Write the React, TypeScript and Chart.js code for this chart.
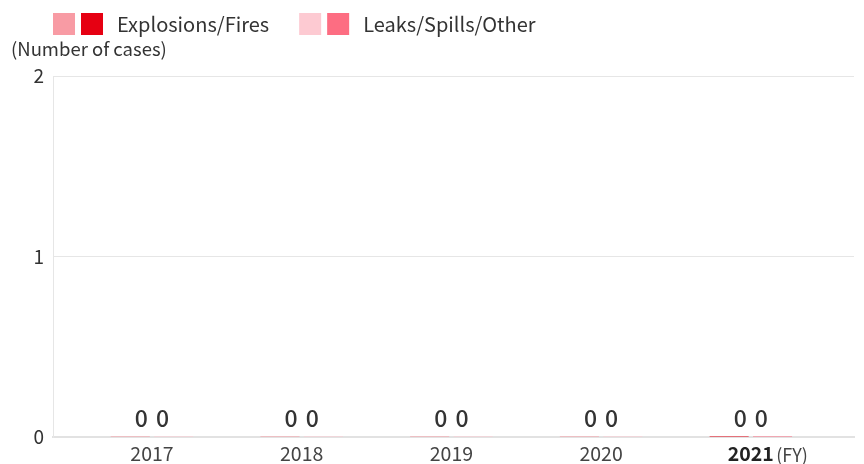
import React, { useEffect, useRef } from "react";
import { Chart, registerables } from "chart.js";

Chart.register(...registerables);

const categories = ["2017", "2018", "2019", "2020", "2021"];
const explosionsFires = [0, 0, 0, 0, 0];
const leaksSpillsOther = [0, 0, 0, 0, 0];
const seriesLabels = ["Explosions/Fires", "Leaks/Spills/Other"];
const yTicks = [0, 1, 2];
const yAxisTitle = "(Number of cases)";
const fyLabel = "(FY)";

const FONT = "'Noto Sans CJK JP', 'Noto Sans', sans-serif";
const lightColors = ["#f89ba4", "#fdcad2"];
const darkColors = ["#e60012", "#fd6d82"];

function barColors(series: number) {
  return categories.map((_, i) => (i === categories.length - 1 ? darkColors[series] : lightColors[series]));
}

const overlayPlugin = {
  id: "overlay",
  afterDatasetsDraw(chart: any) {
    const ctx = chart.ctx;
    const xs = chart.scales.x;
    ctx.save();
    ctx.font = `500 23px ${FONT}`;
    ctx.fillStyle = "#333";
    ctx.textBaseline = "bottom";
    chart.data.datasets.forEach((ds: any, di: number) => {
      const meta = chart.getDatasetMeta(di);
      meta.data.forEach((el: any, i: number) => {
        const center = xs.getPixelForValue(i);
        const v = ds.data[i].y;
        ctx.textAlign = di === 0 ? "right" : "left";
        const x = di === 0 ? center - 4 : center + 4;
        ctx.fillText(String(v), x, el.y - 6);
      });
    });
    ctx.restore();
  },
  afterDraw(chart: any) {
    const ctx = chart.ctx;
    const xs = chart.scales.x;
    ctx.save();
    // legend
    let x = 53;
    const sy = 13;
    ctx.textBaseline = "middle";
    ctx.textAlign = "left";
    ctx.font = `400 20px ${FONT}`;
    seriesLabels.forEach((lab, s) => {
      ctx.fillStyle = lightColors[s];
      ctx.fillRect(x, sy, 22, 22);
      ctx.fillStyle = darkColors[s];
      ctx.fillRect(x + 28, sy, 22, 22);
      ctx.fillStyle = "#333";
      const tx = x + 64;
      ctx.fillText(lab, tx, sy + 11);
      x = tx + ctx.measureText(lab).width + 30;
    });
    // y axis title
    ctx.font = `400 18.5px ${FONT}`;
    ctx.fillStyle = "#333";
    ctx.fillText(yAxisTitle, 11, 49);
    // FY
    const last = categories.length - 1;
    ctx.font = `700 19px ${FONT}`;
    const w = ctx.measureText(categories[last]).width;
    ctx.font = `400 18px ${FONT}`;
    ctx.fillStyle = "#444";
    ctx.fillText(fyLabel, xs.getPixelForValue(last) + w / 2 + 3, 455);
    ctx.restore();
  },
};

export default function App() {
  const ref = useRef<HTMLCanvasElement | null>(null);
  useEffect(() => {
    if (!ref.current) return;
    const chart = new Chart(ref.current, {
      type: "bar",
      data: {
        datasets: [
          {
            label: seriesLabels[0],
            data: explosionsFires.map((y, i) => ({ x: i, y })),
            backgroundColor: barColors(0),
            minBarLength: 1,
          },
          {
            label: seriesLabels[1],
            data: leaksSpillsOther.map((y, i) => ({ x: i, y })),
            backgroundColor: barColors(1),
            minBarLength: 1,
          },
        ],
      },
      options: {
        responsive: false,
        animation: false,
        categoryPercentage: 0.58,
        barPercentage: 0.9,
        layout: { padding: { top: 76, right: 10, left: 0, bottom: 0 } },
        plugins: { legend: { display: false }, tooltip: { enabled: false } },
        scales: {
          x: {
            type: "linear",
            min: -0.661,
            max: 4.689,
            offset: false,
            grid: { display: false, drawTicks: false },
            border: { display: true, color: "#e2e2e2", width: 2 },
            afterBuildTicks: (scale: any) => {
              scale.ticks = categories.map((_, i) => ({ value: i }));
            },
            afterFit: (scale: any) => {
              scale.height = 27;
            },
            ticks: {
              padding: 5,
              maxRotation: 0,
              autoSkip: false,
              color: (c: any) => (c.index === categories.length - 1 ? "#222" : "#444"),
              font: (c: any) =>
                c.index === categories.length - 1
                  ? { family: FONT, size: 19.5, weight: "700" }
                  : { family: FONT, size: 19.5, weight: "400" },
              callback: (_v: any, i: number) => categories[i],
            },
          },
          y: {
            min: 0,
            max: 2,
            afterBuildTicks: (scale: any) => {
              scale.ticks = yTicks.map((v) => ({ value: v }));
            },
            afterFit: (scale: any) => {
              scale.width = 53;
            },
            grid: { color: "#e6e6e6", lineWidth: 1, drawTicks: false },
            border: { display: true, color: "#e6e6e6", width: 1 },
            ticks: {
              padding: 9,
              color: "#333",
              font: { family: FONT, size: 19 },
            },
          },
        },
      },
      plugins: [overlayPlugin],
    } as any);
    return () => chart.destroy();
  }, []);
  return (
    <div style={{ position: "fixed", left: 0, top: 0, width: 864, height: 464, background: "#fff" }}>
      <canvas ref={ref} width={864} height={464} style={{ width: 864, height: 464 }} />
    </div>
  );
}
